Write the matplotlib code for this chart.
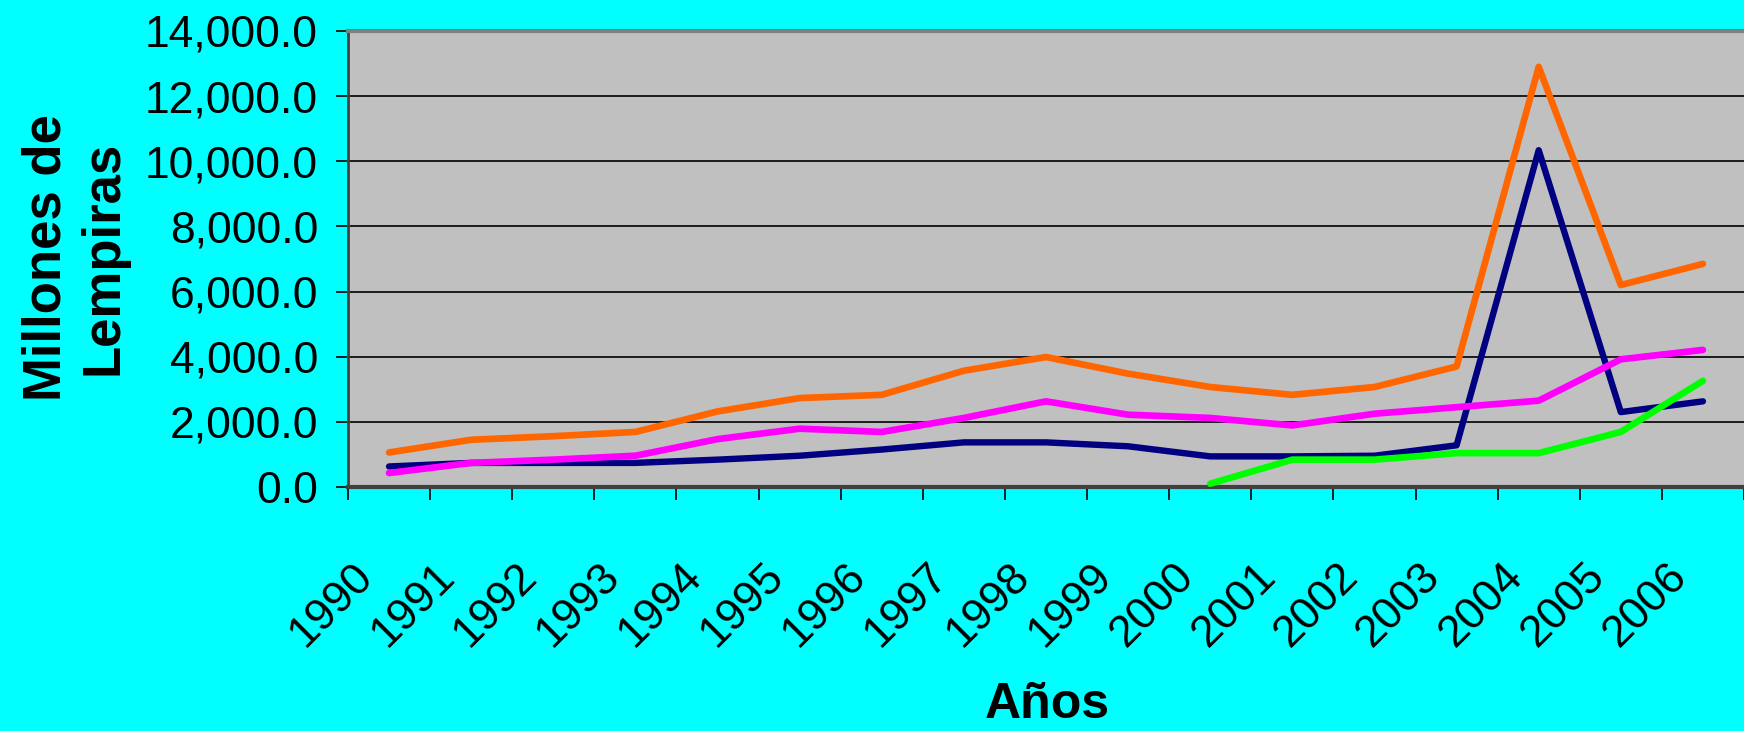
import numpy as np
import matplotlib.pyplot as plt
import matplotlib.transforms as mtransforms

plt.rcParams['font.family'] = ['Liberation Sans', 'DejaVu Sans']

# Datos (millones de lempiras)
anios = ['1990', '1991', '1992', '1993', '1994', '1995', '1996', '1997', '1998',
         '1999', '2000', '2001', '2002', '2003', '2004', '2005', '2006']
naranja = [1060, 1450, 1560, 1690, 2320, 2730, 2830, 3570, 3990,
           3480, 3070, 2830, 3070, 3700, 12900, 6200, 6850]
azul = [630, 740, 740, 740, 840, 960, 1150, 1370, 1370,
        1250, 940, 940, 960, 1280, 10340, 2300, 2630]
magenta = [430, 740, 840, 960, 1470, 1790, 1690, 2120, 2630,
           2220, 2120, 1890, 2250, 2450, 2650, 3920, 4210]
verde = [None] * 10 + [100, 840, 840, 1040, 1040, 1690, 3260]

fig = plt.figure(figsize=(17.44, 7.31), dpi=100, facecolor='#00FFFF')
ax = fig.add_axes([348/1744, 1 - 487/731, 1 - 348/1744, (487 - 31)/731])
ax.set_facecolor('#C0C0C0')

x = np.arange(len(anios))
verde_arr = np.array([np.nan if v is None else v for v in verde], dtype=float)

estilo = dict(solid_capstyle='round', solid_joinstyle='round')
ax.plot(x, azul, color='#000080', lw=4.6, zorder=3, **estilo)
ax.plot(x, naranja, color='#FF6600', lw=4.8, zorder=4, **estilo)
ax.plot(x, magenta, color='#FF00FF', lw=4.8, zorder=5, **estilo)
ax.plot(x, verde_arr, color='#00FF00', lw=4.8, zorder=6, **estilo)

ax.set_xlim(-0.5, len(anios) - 0.5)
ax.set_ylim(0, 14000)
ax.set_yticks(np.arange(0, 14001, 2000))
ax.set_yticklabels(['{:,.1f}'.format(v) for v in np.arange(0, 14001, 2000)], fontsize=32)
ax.yaxis.grid(True, color='black', lw=1.2)
ax.set_axisbelow(True)
ax.tick_params(axis='y', length=8.6, width=1.2, pad=13, direction='out')

# marcas entre categorias, etiquetas en el centro
ax.set_xticks(np.arange(-0.5, len(anios)), minor=True)
ax.set_xticks(x)
ax.set_xticklabels(anios, fontsize=32, rotation=45, ha='right', va='top')
ax.tick_params(axis='x', which='major', length=0, pad=49)
ax.tick_params(axis='x', which='minor', length=9.5, width=1.2, direction='out')
offset = mtransforms.ScaledTranslation(-8/100, 0, fig.dpi_scale_trans)
for lab in ax.get_xticklabels():
    lab.set_transform(lab.get_transform() + offset)

ax.spines['right'].set_visible(False)
ax.spines['top'].set_color('#808080')
ax.spines['top'].set_linewidth(3)
ax.spines['left'].set_color('#404040')
ax.spines['left'].set_linewidth(2)
ax.spines['bottom'].set_color('#404040')
ax.spines['bottom'].set_linewidth(3)

fig.text(75/1744, 1 - 258/731, 'Millones de\nLempiras', rotation=90, fontsize=38,
         fontweight='bold', ha='center', va='center', multialignment='center',
         linespacing=1.2)
fig.text(1047/1744, 1 - 705/731, 'Años', fontsize=36, fontweight='bold',
         ha='center', va='center')

fig.savefig('out.png', dpi=100, facecolor=fig.get_facecolor())
